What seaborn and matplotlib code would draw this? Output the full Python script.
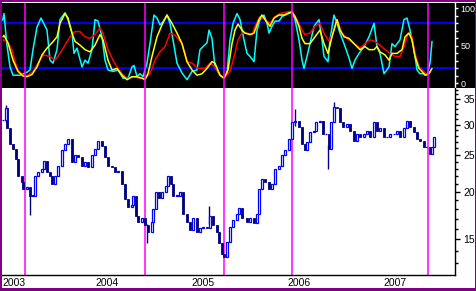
import numpy as np
import pandas as pd
import matplotlib
matplotlib.use("Agg")
import matplotlib.pyplot as plt
import seaborn as sns
from matplotlib.patches import Rectangle
from matplotlib.ticker import FixedLocator, NullFormatter, FixedFormatter

sns.set_style("white")
plt.rcParams['font.family'] = ['Liberation Sans', 'DejaVu Sans']

# ---------------- data (months since start of 2003) ----------------
price_month = [0.5, 0.875, 1.0, 1.375, 1.75, 2.125, 2.375, 2.875, 3.0, 3.5, 3.875, 4.25, 4.5, 4.875,
               5.375, 5.625, 6.0, 6.375, 6.625, 7.0, 7.375, 7.875, 8.25, 8.625, 9.125, 9.5, 9.875,
               10.375, 10.75, 11.125, 11.625, 12.0, 12.375, 12.875, 13.25, 13.625, 14.125, 14.5,
               14.875, 15.375, 15.75, 16.125, 16.625, 16.75, 17.125, 17.375, 17.875, 18.25, 18.625,
               19.125, 19.25, 19.625, 20.0, 20.375, 20.875, 21.125, 21.5, 21.75, 22.25, 22.625, 23.0,
               23.5, 23.875, 24.25, 24.75, 25.125, 25.5, 26.0, 26.375, 26.75, 27.25, 27.5, 27.875,
               28.125, 28.5, 28.875, 29.25, 29.75, 30.0, 30.375, 31.0, 31.375, 31.875, 32.25, 32.5,
               32.875, 33.25, 33.75, 34.125, 34.5, 35.0, 35.375, 35.75, 36.25, 36.625, 37.0, 37.5,
               37.875, 38.25, 38.5, 38.875, 39.375, 39.625, 40.125, 40.5, 40.875, 41.25, 41.5, 41.875,
               42.25, 42.625, 43.0, 43.5, 43.875, 44.375, 44.75, 45.125, 45.625, 46.0, 46.375, 46.875,
               47.25, 47.625, 48.125, 48.5, 48.875, 49.375, 49.75, 50.125, 50.625, 51.0, 51.375,
               51.875, 52.25, 52.625, 53.125, 53.375, 53.875, 54.125, 54.375]
price_close = [30.8, 33.1, 29.3, 26.7, 25.9, 24.4, 22.0, 21.2, 20.3, 20.6, 19.5, 19.5, 22.0, 22.5,
               23.0, 24.1, 22.5, 22.0, 20.9, 22.0, 23.4, 25.7, 26.7, 27.5, 23.9, 24.9, 24.7,
               23.4, 23.9, 23.2, 24.9, 25.9, 27.2, 26.3, 24.7, 23.4, 23.2, 22.5,
               22.7, 20.9, 19.1, 18.2, 18.5, 19.5, 17.3, 16.7, 17.1, 16.4, 15.7,
               16.7, 18.0, 20.0, 19.3, 20.0, 20.7, 22.0, 20.9, 19.5, 19.5, 20.0, 17.5,
               16.7, 15.9, 17.1, 15.7, 16.1, 16.2, 16.1, 17.3, 16.4, 15.7, 14.7, 13.7,
               13.5, 14.8, 16.2, 16.9, 17.5, 18.1, 17.1, 16.7, 17.1, 16.6, 17.5, 20.3,
               21.6, 21.2, 20.3, 20.9, 23.0, 23.4, 24.9, 25.7, 27.5, 30.5, 30.7, 29.5,
               26.7, 25.7, 27.0, 28.7, 28.9, 30.5, 30.7, 28.3, 28.3, 25.9, 30.5, 33.4,
               33.1, 30.5, 29.6, 30.1, 28.9, 27.2, 28.3, 27.9, 28.3, 28.9, 27.8, 30.5,
               28.9, 29.3, 27.8, 27.8, 28.3, 28.3, 28.9, 27.9, 29.3, 30.7, 29.6,
               28.7, 27.5, 27.2, 26.2, 26.2, 25.1, 26.2, 27.8]

wick_month = [0.875, 3.875, 18.5, 26.25, 41.125, 41.875, 37.0]
wick_low = [30.5, 17.4, 14.7, 16.5, 23.0, 32.5, 29.8]
wick_high = [33.8, 19.8, 16.5, 18.3, 26.5, 34.3, 32.9]

fast_month = [0.46, 0.625, 0.96, 1.375, 1.75, 2.625, 3.5, 3.875, 4.25, 4.75, 5.25, 6.0, 6.375, 6.75,
              7.25, 7.625, 8.25, 8.625, 9.125, 9.375, 9.75, 10.375, 10.75, 11.125, 11.625, 12.0,
              12.375, 12.875, 13.25, 13.625, 14.25, 14.875, 15.5, 16.125, 16.625, 16.875, 17.25,
              17.625, 18.0, 18.5, 18.875, 19.375, 19.75, 20.125, 20.5, 21.0, 21.375, 21.75, 22.25,
              22.875, 23.5, 24.125, 24.75, 25.125, 25.5, 26.0, 26.25, 26.625, 27.0, 27.625, 28.125,
              28.5, 28.875, 29.25, 29.75, 30.125, 30.625, 31.0, 31.375, 31.875, 32.25, 32.625,
              33.125, 33.5, 33.75, 34.125, 34.5, 35.0, 35.375, 36.0, 36.625, 37.0, 37.5, 37.875,
              38.125, 38.5, 38.875, 39.375, 40.0, 40.375, 40.625, 41.125, 41.375, 41.875, 42.25,
              42.625, 43.125, 43.75, 44.125, 44.5, 45.0, 45.625, 46.25, 46.875, 47.25, 47.625,
              48.125, 48.75, 49.125, 49.5, 50.125, 50.625, 51.0, 51.375, 51.875, 52.25, 52.625,
              53.125, 53.5, 53.875, 54.125]
fast_value = [84, 93, 54, 22, 11, 11, 15, 18, 45, 75, 87, 71, 31, 27,
              45, 85, 94, 85, 67, 40, 47, 22, 31, 27, 45, 85,
              83, 62, 31, 18, 16, 18, 7, 7, 22, 24, 9,
              13, 9, 27, 53, 91, 87, 78, 82, 91, 80, 58, 27,
              14, 5, 16, 18, 45, 49, 54, 71, 60, 22, 11, 7,
              13, 58, 80, 93, 85, 58, 40, 36, 29, 71, 85,
              91, 80, 67, 76, 83, 83, 89, 92, 95, 85, 58, 31,
              20, 36, 53, 76, 85, 58, 36, 29, 58, 91, 80,
              67, 53, 34, 20, 31, 40, 49, 62, 80, 49, 40,
              13, 22, 53, 49, 58, 85, 87, 71, 45, 18, 13,
              13, 11, 27, 56]

slow_month = [0.5, 0.625, 1.125, 1.75, 2.375, 3.0, 3.5, 4.125, 4.75, 5.375, 6.0, 6.625, 7.25, 7.625,
              8.25, 8.625, 9.125, 9.5, 10.125, 10.75, 11.375, 12.0, 12.625, 13.0, 13.625, 14.125,
              14.75, 15.375, 16.0, 16.625, 17.25, 17.875, 18.25, 18.625, 19.125, 19.75, 20.375,
              21.0, 21.625, 22.25, 22.875, 23.5, 24.125, 24.75, 25.375, 26.0, 26.625, 27.0, 27.625,
              28.125, 28.625, 29.125, 29.5, 29.875, 30.375, 30.75, 31.375, 31.875, 32.5, 32.875,
              33.25, 33.875, 34.375, 35.0, 35.625, 36.25, 36.625, 37.0, 37.5, 37.875, 38.25, 38.875,
              39.5, 40.125, 40.625, 41.125, 41.625, 42.25, 42.625, 43.125, 43.75, 44.375, 45.125,
              45.75, 46.25, 46.875, 47.25, 47.625, 48.25, 48.75, 49.125, 49.75, 50.375, 50.75,
              51.25, 51.625, 52.0, 52.5, 52.875, 53.25, 53.75, 54.125]
slow_value = [62, 64, 54, 31, 16, 10, 9, 12, 22, 38, 47, 54, 62, 80,
              93, 87, 67, 56, 51, 45, 42, 51, 65, 58, 31, 18,
              20, 11, 5, 9, 9, 7, 5, 13, 36, 62, 78,
              91, 80, 67, 53, 29, 18, 11, 13, 20, 29, 27, 11,
              7, 18, 53, 71, 79, 71, 67, 65, 67, 85, 91,
              85, 76, 87, 91, 91, 94, 95, 89, 76, 60, 53, 53,
              62, 71, 53, 40, 62, 85, 71, 62, 60, 53, 45,
              49, 45, 45, 49, 42, 38, 31, 40, 40, 45, 62,
              67, 58, 36, 20, 16, 11, 13, 20]

signal_month = [0.5, 1.0, 1.625, 2.0, 2.375, 3.0, 3.625, 4.25, 4.875, 5.5, 6.375, 7.0, 7.625, 8.25,
                8.875, 9.5, 10.125, 10.75, 11.375, 12.0, 12.625, 13.0, 13.625, 14.25, 14.75, 15.375,
                16.0, 16.75, 17.625, 18.25, 18.875, 19.5, 20.125, 20.75, 21.375, 22.0, 22.875, 23.5,
                24.125, 24.875, 25.75, 26.375, 27.0, 27.625, 28.125, 28.875, 29.5, 29.875, 30.375,
                31.0, 31.625, 32.0, 32.625, 33.25, 33.875, 34.5, 35.125, 36.0, 36.625, 37.25, 37.875,
                38.25, 38.875, 39.5, 40.125, 40.625, 41.25, 41.875, 42.25, 42.875, 43.5, 44.375,
                45.125, 45.75, 46.375, 47.0, 47.625, 48.25, 48.875, 49.5, 50.125, 50.625, 51.125,
                51.625, 52.0, 52.5, 53.125, 53.5, 53.875]
signal_value = [58, 56, 45, 29, 18, 11, 11, 16, 27, 38, 36, 31, 40, 51,
                62, 69, 69, 62, 60, 65, 74, 67, 45, 31, 22, 13,
                7, 9, 7, 7, 13, 31, 42, 49, 67, 64, 53, 29,
                27, 20, 20, 27, 22, 11, 7, 16, 40, 58, 67,
                67, 65, 76, 89, 85, 80, 89, 93, 95, 96, 85, 71,
                65, 67, 76, 80, 67, 56, 71, 85, 67, 60, 53,
                47, 53, 58, 56, 51, 45, 40, 36, 36, 49, 67,
                62, 40, 22, 16, 11, 16]

event_month = [3.25, 18.25, 28.125, 36.625, 53.625]
year_labels = ["2003", "2004", "2005", "2006", "2007"]
price_ticks = [15, 20, 25, 30, 35]
osc_ticks = [0, 50, 100]
osc_levels = [20, 80]

START_YEAR = 2003


def to_year(m):
    return START_YEAR + np.asarray(m, dtype=float) / 12.0


# ---------------- figure ----------------
W, H = 477, 291
fig = plt.figure(figsize=(W / 100, H / 100), dpi=100)
fig.patch.set_facecolor("white")

x0 = 2 / W
x1 = 455 / W
top_top = 1 - 3 / H
split = 1 - 88 / H
bot_bot = 1 - 275 / H

# black band behind the top panel, including its right-hand axis area
band = Rectangle((x0, split), 473 / W, top_top - split, transform=fig.transFigure,
                 facecolor="black", edgecolor="none", zorder=-10)
fig.add_artist(band)

ax_t = fig.add_axes([x0, split, x1 - x0, top_top - split])
ax_b = fig.add_axes([x0, bot_bot, x1 - x0, split - bot_bot])

xlim = (to_year(0.375), to_year(57.0))

# ---------------- top panel (oscillator) ----------------
ax_t.set_facecolor("black")
df_fast = pd.DataFrame({"x": to_year(fast_month), "v": fast_value})
df_slow = pd.DataFrame({"x": to_year(slow_month), "v": slow_value})
df_sig = pd.DataFrame({"x": to_year(signal_month), "v": signal_value})
for lv in osc_levels:
    ax_t.axhline(lv, color="#0000FF", lw=1.4, zorder=1)
sns.lineplot(data=df_fast, x="x", y="v", ax=ax_t, color="#00FFFF", lw=1.1, zorder=2)
sns.lineplot(data=df_sig, x="x", y="v", ax=ax_t, color="#FF0000", lw=1.1, zorder=3)
sns.lineplot(data=df_slow, x="x", y="v", ax=ax_t, color="#FFFF00", lw=1.1, zorder=4)
for ev in event_month:
    ax_t.axvline(to_year(ev), color="#FF00FF", lw=1.1, zorder=6)
ax_t.set_xlim(*xlim)
ax_t.set_ylim(-6, 107)
ax_t.set_xlabel("")
ax_t.set_ylabel("")
ax_t.set_xticks([])
for s in ["left", "top", "bottom"]:
    ax_t.spines[s].set_visible(False)
ax_t.spines["right"].set_color("white")
ax_t.spines["right"].set_linewidth(1.0)
ax_t.yaxis.tick_right()
ax_t.yaxis.set_major_locator(FixedLocator(osc_ticks))
ax_t.yaxis.set_major_formatter(FixedFormatter([str(t) for t in osc_ticks]))
ax_t.yaxis.set_minor_locator(FixedLocator([v for v in range(0, 101, 10) if v not in osc_ticks]))
ax_t.tick_params(axis="y", which="major", colors="white", labelcolor="white", length=2.5,
                 width=1, direction="out", labelsize=6.5, pad=1.5)
ax_t.tick_params(axis="y", which="minor", colors="white", length=1.8, width=1, direction="out")

# ---------------- bottom panel (price candles) ----------------
ax_b.set_facecolor("white")
close = np.asarray(price_close, dtype=float)
opens = np.concatenate([[close[0]], close[:-1]])
px = to_year(price_month)
body_lo = np.minimum(opens, close)
body_hi = np.maximum(opens, close)
up = close >= opens
bw = to_year(0.25) - START_YEAR

for ev in event_month:
    ax_b.axvline(to_year(ev), color="#FF00FF", lw=1.1, zorder=1)

ax_b.vlines(to_year(wick_month), wick_low, wick_high, color="#000080", lw=1.0, zorder=2)
ax_b.bar(px[~up], body_hi[~up] - body_lo[~up], bottom=body_lo[~up], width=bw,
         color="#000080", edgecolor="#000080", linewidth=0.6, zorder=3)
ax_b.bar(px[up], np.maximum(body_hi[up] - body_lo[up], 0.05), bottom=body_lo[up], width=bw,
         color="white", edgecolor="#0000FF", linewidth=0.9, zorder=4)

ax_b.set_yscale("log")
ax_b.set_ylim(12.1, 37.4)
ax_b.set_xlim(*xlim)
for s in ["left", "top"]:
    ax_b.spines[s].set_visible(False)
ax_b.spines["right"].set_color("black")
ax_b.spines["bottom"].set_color("black")
ax_b.spines["right"].set_linewidth(1.0)
ax_b.spines["bottom"].set_linewidth(1.0)

ax_b.yaxis.tick_right()
ax_b.yaxis.set_major_locator(FixedLocator(price_ticks))
ax_b.yaxis.set_minor_locator(FixedLocator([v for v in range(13, 38) if v not in price_ticks]))
ax_b.yaxis.set_major_formatter(FixedFormatter([str(t) for t in price_ticks]))
ax_b.yaxis.set_minor_formatter(NullFormatter())
ax_b.tick_params(axis="y", which="major", colors="black", length=3.5, width=1, direction="out",
                 labelsize=7.5, pad=2.5)
ax_b.tick_params(axis="y", which="minor", colors="black", length=2.5, width=1, direction="out")

year_pos = [to_year(12 * i) for i in range(len(year_labels))]
ax_b.xaxis.set_major_locator(FixedLocator(year_pos))
ax_b.xaxis.set_minor_locator(FixedLocator([to_year(m) for m in range(1, 57) if m % 12 != 0]))
ax_b.xaxis.set_major_formatter(NullFormatter())
ax_b.tick_params(axis="x", which="major", length=8.5, width=1, direction="out", colors="black")
ax_b.tick_params(axis="x", which="minor", length=3, width=1, direction="out", colors="black")
ax_b.set_xlabel("")
ax_b.set_ylabel("")

for yp, lab in zip(year_pos, year_labels):
    xpos = max(yp, xlim[0])
    ax_b.annotate(lab, xy=(xpos, 0), xycoords=("data", "axes fraction"),
                  xytext=(0.6, -2.2), textcoords="offset points", ha="left", va="top",
                  fontsize=7.5, color="black", annotation_clip=False)

# ---------------- purple frame ----------------
purple = "#800080"
for (fx, fy, fw, fh) in [(0, 0, 2 / W, 1), (1 - 2 / W, 0, 2 / W, 1),
                         (0, 1 - 2 / H, 1, 2 / H), (0, 0, 1, 3 / H)]:
    fig.add_artist(Rectangle((fx, fy), fw, fh, transform=fig.transFigure, facecolor=purple,
                             edgecolor="none", zorder=10))

fig.savefig("out.png", dpi=100, facecolor="white")
